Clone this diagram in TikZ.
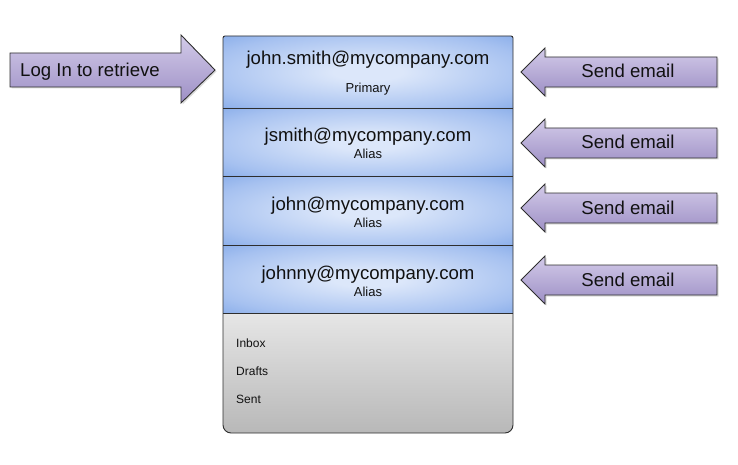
\documentclass[tikz,border=0pt]{standalone}
\usepackage{fontspec}
\setmainfont{Liberation Sans}
\usetikzlibrary{calc}
\newcommand{\Edge}{0.9pt}
\newcommand{\BoxL}{223}
\newcommand{\BoxR}{513}
\newcommand{\BoxMid}{368}
\newcommand{\BoxTop}{36}
\newcommand{\BoxBot}{433}
\newcommand{\TipX}{521}
\newcommand{\NeckX}{545}
\newcommand{\TailX}{717}
\definecolor{aliasin}{HTML}{DCE7FA}
\definecolor{aliasmid}{HTML}{A6C1F0}
\definecolor{aliasout}{HTML}{6A98E2}
\definecolor{foldtop}{HTML}{E6E6E6}
\definecolor{foldbot}{HTML}{B8B8B8}
\definecolor{arrowtop}{HTML}{D3CBE9}
\definecolor{arrowbot}{HTML}{9D8FC5}
\definecolor{ink}{HTML}{2E2E2E}
\definecolor{type}{HTML}{111111}
\pgfdeclareradialshading{aliasglow}{\pgfpoint{0bp}{0bp}}{%
  color(0bp)=(aliasin); color(6bp)=(aliasin); color(28bp)=(aliasmid);
  color(46bp)=(aliasout); color(50bp)=(aliasout)}
% the mailbox outline, used to clip the fills and to draw the border
\newcommand{\Shell}{[rounded corners=2pt] (\BoxL,250) -- (\BoxL,\BoxTop)
  -- (\BoxR,\BoxTop) -- (\BoxR,250) [rounded corners=8pt] -- (\BoxR,\BoxBot)
  -- (\BoxL,\BoxBot) -- cycle}

\begin{document}
\begin{tikzpicture}[x=1pt,y=-1pt, line join=miter,
  arrowbox/.style={draw=ink,line width=\Edge,top color=arrowtop,bottom color=arrowbot},
  arrowshadow/.style={fill=black!14},
  addr/.style={anchor=base,inner sep=0pt,text=type,font=\fontsize{18.6pt}{20pt}\selectfont},
  tag/.style={anchor=base,inner sep=0pt,text=type,font=\fontsize{13pt}{14pt}\selectfont},
  folder/.style={anchor=base west,inner sep=0pt,text=type,font=\fontsize{12pt}{13pt}\selectfont}]

  \useasboundingbox (0,0) rectangle (738,465);

  % ---- the mailbox --------------------------------------------------------
  \begin{scope}
    \clip \Shell;
    \foreach \t/\b in {36/108, 108/176, 176/245, 245/313} {
      \shade[shading=aliasglow] (\BoxL,\t) rectangle (\BoxR,\b);
    }
    \shade[top color=foldtop,bottom color=foldbot] (\BoxL,313) rectangle (\BoxR,\BoxBot);
  \end{scope}
  \foreach \y in {108,176,245,313} {
    \draw[ink,line width=\Edge] (\BoxL,\y) -- (\BoxR,\y);
  }
  \draw[ink,line width=\Edge] \Shell;

  % ---- addresses ----------------------------------------------------------
  \node[addr] (primary) at (\BoxMid,65) {john.smith@mycompany.com};
  \node[tag] (primarytag) at (\BoxMid,93) {Primary};
  \foreach \t/\who/\n in {108/jsmith/1, 176/john/2, 245/johnny/3} {
    \node[addr] (alias\n) at (\BoxMid,\t+34) {\who @mycompany.com};
    \node[tag] (aliastag\n) at (\BoxMid,\t+51) {Alias};
  }

  % ---- folders ------------------------------------------------------------
  \node[folder] (inbox) at (236,347) {Inbox};
  \node[folder] (drafts) at (236,375) {Drafts};
  \node[folder] (sent) at (236,403) {Sent};

  % ---- log in arrow -------------------------------------------------------
  \fill[arrowshadow] (11.5,54.5) -- (182.5,54.5) -- (182.5,36.5) -- (216.5,71.5)
    -- (182.5,104.5) -- (182.5,88.5) -- (11.5,88.5) -- cycle;
  \draw[arrowbox] (10,53) -- (181,53) -- (181,35) -- (215,70)
    -- (181,103) -- (181,87) -- (10,87) -- cycle;
  \node[folder,font=\fontsize{18.6pt}{20pt}\selectfont] (login) at (20,77) {Log In to retrieve};

  % ---- send arrows --------------------------------------------------------
  \foreach \y/\n in {72/1, 143/2, 208/3, 280/4} {
    \fill[arrowshadow] (\TipX+1.5,\y+1.5) -- (\NeckX+1.5,\y-22.5) -- (\NeckX+1.5,\y-13.5)
      -- (\TailX+1.5,\y-13.5) -- (\TailX+1.5,\y+16.5) -- (\NeckX+1.5,\y+16.5)
      -- (\NeckX+1.5,\y+25.5) -- cycle;
    \draw[arrowbox] (\TipX,\y) -- (\NeckX,\y-24) -- (\NeckX,\y-15)
      -- (\TailX,\y-15) -- (\TailX,\y+15) -- (\NeckX,\y+15)
      -- (\NeckX,\y+24) -- cycle;
    \node[addr] (send\n) at (628,\y+6) {Send email};
  }

\end{tikzpicture}
\end{document}
